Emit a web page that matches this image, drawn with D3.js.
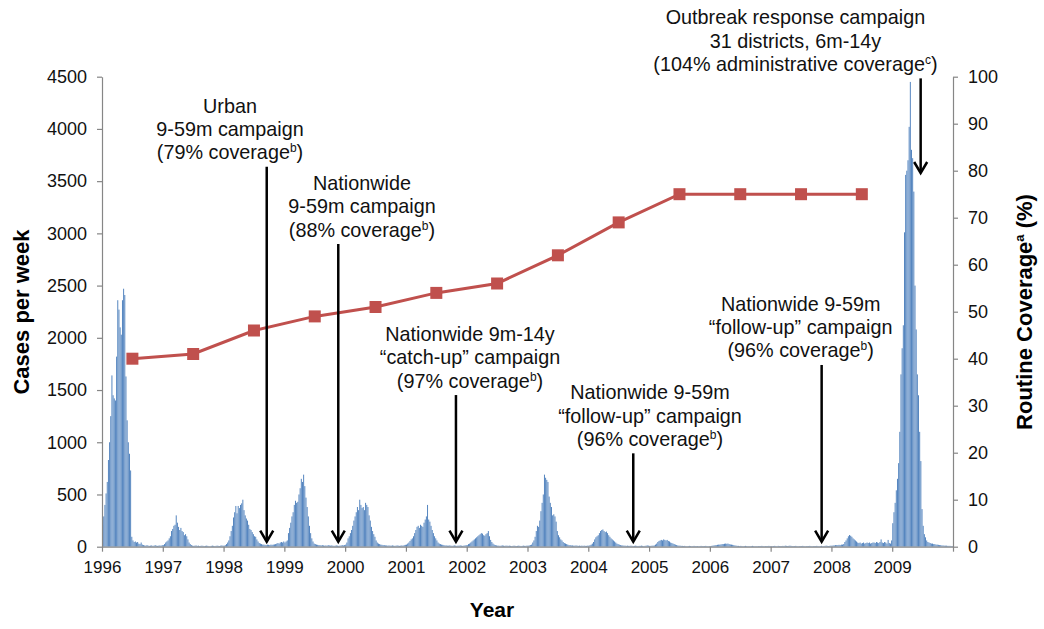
<!DOCTYPE html>
<html><head><meta charset="utf-8">
<script src="https://cdn.jsdelivr.net/npm/d3@7"></script>
<style>
body{margin:0;background:#fff}
svg{display:block;font-family:"Liberation Sans",Arial,Helvetica,sans-serif}
</style>
</head><body>
<svg id="chart" width="1044" height="629"></svg>
<script>
// ---------------- DATA ----------------
const years = [1996,1997,1998,1999,2000,2001,2002,2003,2004,2005,2006,2007,2008,2009];

// weekly measles cases (52 weeks per year)
const cases1996 = [210,290,400,510,620,830,1000,1250,1640,1450,1420,1400,1820,2360,2270,2100,2030,2360,2470,2410,1630,1210,1000,890,730,95,60,45,50,40,45,30,25,40,20,15,12,10,15,10,8,10,12,8,10,15,10,8,10,12,10,15];
const cases1997 = [15,25,40,50,60,80,100,150,170,200,210,300,230,190,160,180,150,140,110,120,100,70,40,25,15,10,8,10,12,8,10,6,8,10,8,6,8,10,8,6,5,8,10,8,6,8,10,8,6,10,12,10];
const cases1998 = [10,15,25,40,60,100,150,200,280,330,390,320,390,370,400,415,450,350,300,270,250,210,170,160,140,120,100,95,70,50,35,30,25,20,20,18,15,20,18,15,20,18,20,22,25,30,35,30,40,45,40,50];
const cases1999 = [40,50,60,130,180,230,290,330,400,440,420,430,500,560,650,620,690,580,470,380,290,200,130,80,50,30,25,20,18,15,15,12,15,12,10,12,10,15,12,10,12,10,8,10,12,10,8,10,12,15,12,15];
const cases2000 = [20,40,80,100,130,160,200,250,290,330,380,350,450,400,370,380,350,420,400,380,300,250,190,150,120,95,60,40,30,25,20,18,15,15,12,12,10,12,10,10,12,10,8,10,12,10,8,10,12,10,15,18];
const cases2001 = [20,30,40,55,70,80,100,130,160,190,200,180,210,200,190,230,260,290,400,260,240,200,160,130,100,80,60,40,30,25,20,18,15,12,12,10,10,12,10,8,10,12,10,8,10,10,12,10,8,10,12,15];
const cases2002 = [15,25,30,40,50,60,70,80,90,100,110,120,130,125,110,105,120,130,150,100,65,45,30,20,15,12,10,10,8,10,12,10,8,10,10,8,10,8,6,8,10,8,6,8,10,8,6,8,10,8,8,10];
const cases2003 = [10,12,15,20,40,60,95,150,200,190,250,340,420,500,690,660,640,620,480,420,380,300,310,290,240,150,110,90,70,60,45,35,30,25,20,15,15,12,12,10,10,12,10,8,10,8,10,8,10,8,8,10];
const cases2004 = [10,15,20,30,45,70,90,100,110,130,150,160,165,150,140,145,130,110,95,80,70,60,50,40,30,25,20,15,12,12,10,10,8,10,8,8,10,8,6,8,10,8,6,8,8,10,8,6,8,10,12,10];
const cases2005 = [8,8,10,10,12,20,30,45,55,60,65,60,70,65,60,65,55,50,40,35,30,25,20,15,12,10,10,8,8,6,8,6,5,6,8,6,5,6,8,6,5,6,5,6,8,6,5,6,8,6,5,6];
const cases2006 = [5,8,10,12,15,15,18,20,20,22,25,25,28,30,28,30,25,22,20,18,15,12,10,8,8,6,8,6,5,6,8,6,5,6,5,6,8,6,5,6,5,6,5,6,8,6,5,6,5,6,8,6];
const cases2007 = [6,5,6,8,6,5,8,6,5,6,8,6,10,8,6,8,10,8,6,5,6,8,6,5,6,5,6,8,6,5,6,5,6,8,6,5,6,5,6,8,6,5,6,8,5,6,8,10,8,6,8,10];
const cases2008 = [10,12,12,15,15,15,18,15,20,20,25,45,60,80,100,112,105,95,80,70,60,50,40,35,40,30,35,40,30,35,40,35,40,30,35,40,40,35,45,40,35,45,70,40,35,45,40,30,65,35,30,60];
const cases2009 = [225,330,420,540,650,800,1100,1650,1900,2120,3010,3560,3600,3700,4020,4450,3800,3720,3400,2500,2080,1650,1450,1100,820,360,200,120,90,60,45,40,35,30,30,25,25,20,20,18,15,15,12,12,10,10,10,8,8,8,6,5];

// routine coverage (%), plotted mid-year
const coverageYears  = [1996,1997,1998,1999,2000,2001,2002,2003,2004,2005,2006,2007,2008];
const coverageValues = [40,41,46,49,51,54,56,62,69,75,75,75,75];

// tick labels
const leftTicks  = [0,500,1000,1500,2000,2500,3000,3500,4000,4500];
const rightTicks = [0,10,20,30,40,50,60,70,80,90,100];
const xTickYears = [1996,1997,1998,1999,2000,2001,2002,2003,2004,2005,2006,2007,2008,2009];

// campaign annotations: arrow date, text lines ("^x" = superscript)
const campaignDates = [1998.71, 1999.887, 2001.823, 2004.74, 2007.839, 2009.468];
const campaignTexts = [
  ["Urban", "9-59m campaign", "(79% coverage^b)"],
  ["Nationwide", "9-59m campaign", "(88% coverage^b)"],
  ["Nationwide 9m-14y", "\u201Ccatch-up\u201D campaign", "(97% coverage^b)"],
  ["Nationwide 9-59m", "\u201Cfollow-up\u201D campaign", "(96% coverage^b)"],
  ["Nationwide 9-59m", "\u201Cfollow-up\u201D campaign", "(96% coverage^b)"],
  ["Outbreak response campaign", "31 districts, 6m-14y", "(104% administrative coverage^c)"]
];

// ---------------- LAYOUT (positions in data units) ----------------
const annoLayout = [
  {textAt: 1998.106, top: 3638, tip: 48},
  {textAt: 2000.277, top: 2898, tip: 48},
  {textAt: 2002.054, top: 1452, tip: 48},
  {textAt: 2005.015, top: 894,  tip: 48},
  {textAt: 2007.494, top: 1740, tip: 48},
  {textAt: 2007.408, top: 4484, tip: 3578}
];

// ---------------- CHART ----------------
const svg = d3.select("#chart");
const allCases = [cases1996,cases1997,cases1998,cases1999,cases2000,cases2001,cases2002,
                  cases2003,cases2004,cases2005,cases2006,cases2007,cases2008,cases2009];
const weekly = [];
years.forEach((yr, i) => allCases[i].forEach((v, w) => weekly.push({t: yr + w / 52, v})));

const x = d3.scaleLinear().domain([1996, 2010]).range([102, 953]);
const yL = d3.scaleLinear().domain([0, 4500]).range([546.7, 76.7]);
const yR = d3.scaleLinear().domain([0, 100]).range([546.7, 76.7]);

const axisColor = "#868686";
const step = x(1996 + 1/52) - x(1996);

// bars
svg.append("g").selectAll("rect").data(weekly).join("rect")
  .attr("x", d => x(d.t) + 0.1)
  .attr("width", step * 0.82)
  .attr("y", d => yL(d.v))
  .attr("height", d => yL(0) - yL(d.v))
  .attr("fill", "#4F81BD");

// coverage line
const cov = coverageYears.map((yr, i) => ({t: yr + 0.5, v: coverageValues[i]}));
svg.append("path").datum(cov)
  .attr("d", d3.line().x(d => x(d.t)).y(d => yR(d.v)))
  .attr("fill", "none").attr("stroke", "#C0504D").attr("stroke-width", 3);
svg.append("g").selectAll("rect").data(cov).join("rect")
  .attr("x", d => x(d.t) - 6).attr("y", d => yR(d.v) - 6)
  .attr("width", 12).attr("height", 12).attr("fill", "#C0504D");

// axes
const gL = svg.append("g").attr("transform", `translate(${x(1996)},0)`)
  .call(d3.axisLeft(yL).tickValues(leftTicks).tickFormat(d3.format("d"))
    .tickSize(5).tickSizeOuter(0).tickPadding(10));
const gR = svg.append("g").attr("transform", `translate(${x(2010)},0)`)
  .call(d3.axisRight(yR).tickValues(rightTicks).tickFormat(d3.format("d"))
    .tickSize(5).tickSizeOuter(0).tickPadding(10));
const gX = svg.append("g").attr("transform", `translate(0,${yL(0)})`)
  .call(d3.axisBottom(x).tickValues(d3.range(1996, 2011)).tickSize(5).tickSizeOuter(0).tickPadding(9)
    .tickFormat(d => xTickYears.includes(d) ? String(d) : ""));
[gL, gR, gX].forEach(g => {
  g.select(".domain").attr("stroke", axisColor).attr("stroke-width", 1.2);
  g.selectAll(".tick line").attr("stroke", axisColor).attr("stroke-width", 1.2);
  g.selectAll("text").attr("fill", "#111").style("font-family", '"Liberation Sans",Arial,sans-serif');
});
gL.selectAll("text").style("font-size", "18px");
gR.selectAll("text").style("font-size", "18px");
gX.selectAll("text").style("font-size", "17px");
gX.selectAll(".tick text").filter(function(){ return this.textContent === ""; }).remove();

// helper: text with ^superscript (shift back on the following piece)
function richText(sel, str, supSize, shift) {
  const parts = str.split(/(\^.)/).filter(p => p);
  let pendingDown = 0;
  parts.forEach(p => {
    if (p[0] === "^") {
      sel.append("tspan").text(p[1]).attr("dy", -shift).style("font-size", supSize);
      pendingDown = shift;
    } else {
      const ts = sel.append("tspan").text(p);
      if (pendingDown) { ts.attr("dy", pendingDown); pendingDown = 0; }
    }
  });
}

// annotations
const lineH = 23.3;
campaignDates.forEach((date, i) => {
  const L = annoLayout[i];
  const ax = x(date), yTop = yL(L.top), yTip = yL(L.tip);
  const g = svg.append("g");
  g.append("line").attr("x1", ax).attr("x2", ax).attr("y1", yTop).attr("y2", yTip - 1)
    .attr("stroke", "#000").attr("stroke-width", 2.5);
  g.append("path").attr("d", `M${ax - 6.5},${yTip - 11}L${ax},${yTip}L${ax + 6.5},${yTip - 11}`)
    .attr("fill", "none").attr("stroke", "#000").attr("stroke-width", 2.5);
  const lines = campaignTexts[i];
  const lastBase = yTop - 7.5;
  lines.forEach((ln, j) => {
    const t = g.append("text")
      .attr("x", x(L.textAt))
      .attr("y", lastBase - (lines.length - 1 - j) * lineH)
      .attr("text-anchor", "middle")
      .style("font-size", "19.8px").attr("fill", "#111");
    richText(t, ln, "12px", 7);
  });
});

// axis titles
svg.append("text").attr("transform", "translate(29,312) rotate(-90)")
  .attr("text-anchor", "middle").style("font-size", "22px").style("font-weight", "bold")
  .text("Cases per week");
const rt = svg.append("text").attr("transform", "translate(1032,312) rotate(-90)")
  .attr("text-anchor", "middle").style("font-size", "22px").style("font-weight", "bold");
richText(rt, "Routine Coverage^a (%)", "13px", 8);
svg.append("text").attr("x", 492).attr("y", 617).attr("text-anchor", "middle")
  .style("font-size", "21px").style("font-weight", "bold").text("Year");
</script>
</body></html>
